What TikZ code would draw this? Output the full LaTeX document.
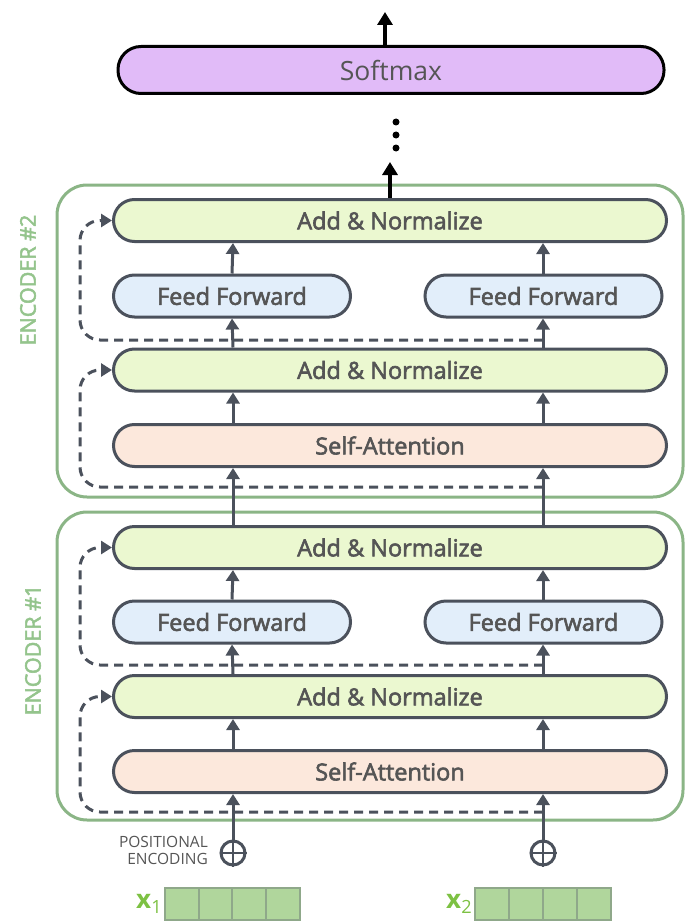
\documentclass[tikz,border=0pt]{standalone}
\usepackage{fontspec}
\setmainfont{Open Sans}
\newfontfamily\semib{Open Sans}[FakeBold=2.5]
\usetikzlibrary{arrows.meta}
\definecolor{dk}{HTML}{4B515C}
\definecolor{txt}{HTML}{555555}
\definecolor{anfill}{HTML}{EBF8D0}
\definecolor{fffill}{HTML}{E2EEFA}
\definecolor{safill}{HTML}{FCE8DC}
\definecolor{smfill}{HTML}{E1BBF8}
\definecolor{encg}{HTML}{8BB586}
\definecolor{enclab}{HTML}{94C48C}
\definecolor{vecfill}{HTML}{B0D69C}
\definecolor{vecline}{HTML}{8FA88A}
\definecolor{xg}{HTML}{7DC143}
\tikzset{
  layer/.style={draw=dk, line width=3pt, rounded corners=21pt, minimum height=42pt,
    inner sep=0pt, text=txt, font=\semib\fontsize{23.5}{26}\selectfont},
  wide/.style={layer, minimum width=553pt},
  addnorm/.style={wide, fill=anfill},
  selfatt/.style={wide, fill=safill},
  ffbox/.style={layer, fill=fffill, minimum width=237pt},
  arr/.style={draw=dk, line width=3pt, -{Triangle[width=13pt,length=11pt]}},
  barr/.style={draw=black, line width=3.5pt, -{Triangle[width=15pt,length=13pt]}},
  resid/.style={draw=dk, line width=3pt, dash pattern=on 9pt off 6pt, rounded corners=20pt,
    -{Triangle[width=13pt,length=11pt]}},
  encbox/.style={draw=encg, line width=3pt, rounded corners=30pt},
  enclabel/.style={rotate=90, text=enclab, font=\semib\fontsize{21.5}{24}\selectfont},
  plus/.style={circle, draw=dk, line width=3pt, fill=white, minimum size=24pt, inner sep=0pt},
  cell/.style={draw=vecline, line width=1.5pt, fill=vecfill, minimum width=33.75pt, minimum height=32pt, inner sep=0pt},
  xlab/.style={text=xg, font=\fontsize{26}{28}\selectfont\bfseries}
}
\begin{document}
\begin{tikzpicture}[x=1pt,y=-1pt]
\useasboundingbox (0,0) rectangle (686,923);
\coordinate (colL) at (233,0);
\coordinate (colR) at (543,0);

% Softmax
\node[draw=black, line width=3pt, fill=smfill, rounded corners=23pt, minimum width=546pt, minimum height=47pt,
  inner sep=0pt, text=txt, font=\fontsize{26.5}{28}\selectfont] (soft) at (391,70) {Softmax};
\coordinate (outtop) at (385,12);
\draw[barr] (soft.north -| outtop) -- (outtop);

% dots
\fill (396,122) circle (3.5pt) (396,135) circle (3.5pt) (396,148) circle (3.5pt);
\coordinate (enctop) at (390,162);

% Encoder boxes
\draw[encbox] (57,185) rectangle (683,497);
\draw[encbox] (57,512) rectangle (683,820);
\node[enclabel] (lab2) at (28,280) {ENCODER \#2};
\node[enclabel] (lab1) at (33,650) {ENCODER \#1};

% Encoder 2
\node[addnorm] (an2b) at (390,220.5) {Add \& Normalize};
\node[ffbox] (ff2l) at (232,296) {Feed Forward};
\node[ffbox] (ff2r) at (543.5,296) {Feed Forward};
\node[addnorm] (an2a) at (390,370) {Add \& Normalize};
\node[selfatt] (sa2) at (390,445.5) {Self-Attention};

% Encoder 1
\node[addnorm] (an1b) at (390,547.5) {Add \& Normalize};
\node[ffbox] (ff1l) at (232,622) {Feed Forward};
\node[ffbox] (ff1r) at (543.5,622) {Feed Forward};
\node[addnorm] (an1a) at (390,696.5) {Add \& Normalize};
\node[selfatt] (sa1) at (390,771.5) {Self-Attention};

\draw[barr] (an2b.north -| enctop) -- (enctop);

% vertical arrows
\foreach \c in {colL,colR}{
  \draw[arr] (sa1.north -| \c) -- (an1a.south -| \c);
  \draw[arr] (an1b.north -| \c) -- (sa2.south -| \c);
  \draw[arr] (sa2.north -| \c) -- (an2a.south -| \c);
}
\draw[arr] (an1a.north -| colL) -- (ff1l.south);
\draw[arr] (an1a.north -| colR) -- (ff1r.south -| colR);
\draw[arr] (ff1l.north) -- (an1b.south -| colL);
\draw[arr] (ff1r.north -| colR) -- (an1b.south -| colR);
\draw[arr] (an2a.north -| colL) -- (ff2l.south);
\draw[arr] (an2a.north -| colR) -- (ff2r.south -| colR);
\draw[arr] (ff2l.north) -- (an2b.south -| colL);
\draw[arr] (ff2r.north -| colR) -- (an2b.south -| colR);

% residual connections
\coordinate (r1a) at (543,812);
\coordinate (r1b) at (543,665);
\coordinate (r2a) at (543,487);
\coordinate (r2b) at (543,340);
\draw[resid] (r1a) -- (80,812) -- (80,696.5) -- (an1a.west);
\draw[resid] (r1b) -- (80,665) -- (80,547.5) -- (an1b.west);
\draw[resid] (r2a) -- (80,487) -- (80,370) -- (an2a.west);
\draw[resid] (r2b) -- (80,340) -- (80,220.5) -- (an2b.west);

% positional encoding
\node[plus] (p1) at (233,853) {};
\node[plus] (p2) at (543,853) {};
\foreach \p in {p1,p2}{
  \draw[dk, line width=2.5pt] (\p.north) -- (\p.south) (\p.west) -- (\p.east);
}
\draw[arr] (p1.north) -- (sa1.south -| colL);
\draw[arr] (p2.north) -- (sa1.south -| colR);
\node[anchor=east, align=right, text=txt, font=\fontsize{15.5}{17}\selectfont, inner sep=0pt] (pos) at (208,850) {POSITIONAL\\ENCODING};

% input vectors
\foreach \i/\x in {a/182,b/216,c/249,d/283}{
  \node[cell] (v1\i) at (\x,904) {};
}
\foreach \i/\x in {a/492,b/526,c/560,d/594}{
  \node[cell] (v2\i) at (\x,904) {};
}
\node[xlab, anchor=east, inner sep=2pt] (x1) at (v1a.west) {x\textsubscript{\mdseries 1}};
\node[xlab, anchor=east, inner sep=2pt] (x2) at (v2a.west) {x\textsubscript{\mdseries 2}};
\end{tikzpicture}
\end{document}
